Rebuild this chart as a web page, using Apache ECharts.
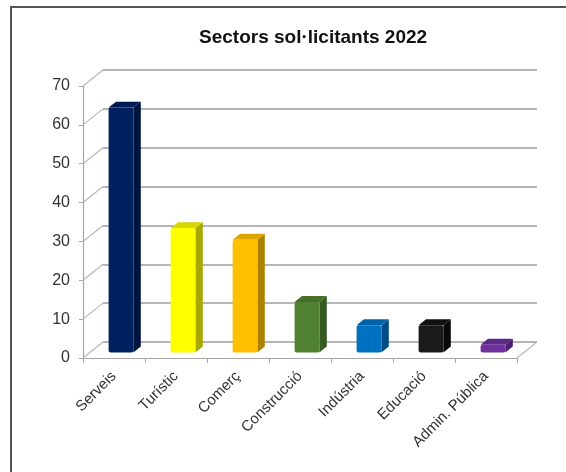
<!DOCTYPE html>
<html>
<head>
<meta charset="utf-8">
<script src="https://cdn.jsdelivr.net/npm/echarts@6/dist/echarts.min.js"></script>
<style>html,body{margin:0;padding:0;background:#fff}#c{width:566px;height:472px}</style>
</head>
<body>
<div id="c"></div>
<script>
const categories = ['Serveis', 'Turístic', 'Comerç', 'Construcció', 'Indústria', 'Educació', 'Admin. Pública'];
const values = [63, 32, 29, 13, 7, 7, 2];
const yTicks = [0, 10, 20, 30, 40, 50, 60, 70];

const frontColors = ['#002060', '#FFFF00', '#FFC000', '#4F8131', '#0070C0', '#1A1A1A', '#7030A0'];
const sideColors  = ['#00143F', '#A8A800', '#AD8200', '#365A21', '#004C86', '#080808', '#4C1F70'];
const topColors   = ['#001A52', '#D6D600', '#DDA500', '#44702A', '#0062A8', '#111111', '#5E2889'];

const DX = 20, DY = -16;      // depth of the 3D box
const F0 = 0.35, F1 = 0.72;   // bar depth inside the box
const FONT = 'Liberation Sans, Arial, sans-serif';

const chart = echarts.init(document.getElementById('c'), null, {renderer: 'canvas'});

function barItem(params, api) {
  const i = api.value(0), v = api.value(1);
  const top = api.coord([i, v]);
  const bot = api.coord([i, 0]);
  const band = api.size([1, 0])[0];
  const w = band * 0.2;
  const x0 = top[0] - w, x1 = top[0] + w;
  const ax = F0 * DX, ay = F0 * DY, bx = F1 * DX, by = F1 * DY;
  const yt = top[1], yb = bot[1];
  return {
    type: 'group',
    children: [
      {type: 'polygon', shape: {points: [[x1 + ax, yt + ay], [x1 + bx, yt + by], [x1 + bx, yb + by], [x1 + ax, yb + ay]]},
       style: {fill: sideColors[i]}},
      {type: 'polygon', shape: {points: [[x0 + ax, yt + ay], [x1 + ax, yt + ay], [x1 + bx, yt + by], [x0 + bx, yt + by]]},
       style: {fill: topColors[i]}},
      {type: 'rect', shape: {x: x0 + ax, y: yt + ay, width: x1 - x0, height: yb - yt, r: 2},
       style: {fill: frontColors[i]}}
    ]
  };
}

function wallItem(params, api) {
  const p = api.coord([0, api.value(1)]);
  const band = api.size([1, 0])[0];
  const x = p[0] - band / 2;
  return {type: 'line', shape: {x1: x, y1: p[1], x2: x + DX, y2: p[1] + DY},
          style: {stroke: '#B8B8B8', lineWidth: 1.2}};
}

function floorRightItem(params, api) {
  const p = api.coord([api.value(0), 0]);
  const band = api.size([1, 0])[0];
  const x = p[0] + band / 2;
  return {type: 'line', shape: {x1: x, y1: p[1], x2: x + DX, y2: p[1] + DY},
          style: {stroke: '#B8B8B8', lineWidth: 1.2}};
}

const option = {
  animation: false,
  backgroundColor: '#ffffff',
  title: {
    text: 'Sectors sol·licitants 2022',
    left: 199, top: 28, padding: 0,
    textStyle: {fontFamily: FONT, fontSize: 19, fontWeight: 'bold', color: '#111'}
  },
  graphic: [
    {type: 'polyline', shape: {points: [[11, 472], [11, 7], [566, 7]]},
     style: {stroke: '#555', lineWidth: 2, fill: null}}
  ],
  grid: [
    {left: 83, top: 86, width: 434, height: 272},
    {left: 103, top: 70, width: 434, height: 272}
  ],
  xAxis: [
    {type: 'category', gridIndex: 0, data: categories,
     axisLine: {show: true, lineStyle: {color: '#A6A6A6', width: 1.2}},
     axisTick: {show: true, length: 5, lineStyle: {color: '#A6A6A6'}},
     axisLabel: {rotate: 45, interval: 0, margin: 16, fontFamily: FONT, fontSize: 15, color: '#333'},
     splitLine: {show: false}},
    {type: 'category', gridIndex: 1, data: categories, show: false}
  ],
  yAxis: [
    {type: 'value', gridIndex: 0, min: 0, max: 70, interval: 10,
     axisLine: {show: true, lineStyle: {color: '#A6A6A6', width: 1.2}},
     axisTick: {show: true, length: 4, lineStyle: {color: '#A6A6A6'}},
     axisLabel: {margin: 13, fontFamily: FONT, fontSize: 16, color: '#333'},
     splitLine: {show: false}},
    {type: 'value', gridIndex: 1, min: 0, max: 70, interval: 10,
     axisLine: {show: false}, axisTick: {show: false}, axisLabel: {show: false},
     splitLine: {show: true, lineStyle: {color: '#9C9C9C', width: 1.5}}}
  ],
  series: [
    {type: 'custom', name: 'walls', xAxisIndex: 0, yAxisIndex: 0, silent: true,
     renderItem: wallItem, data: yTicks.map(v => [0, v]), z: 1},
    {type: 'custom', name: 'floor', xAxisIndex: 0, yAxisIndex: 0, silent: true,
     renderItem: floorRightItem, data: [[categories.length - 1, 0]], z: 1},
    {type: 'custom', name: 'Sectors', xAxisIndex: 0, yAxisIndex: 0,
     renderItem: barItem, data: values.map((v, i) => [i, v]), z: 5}
  ]
};
chart.setOption(option);
</script>
</body>
</html>
